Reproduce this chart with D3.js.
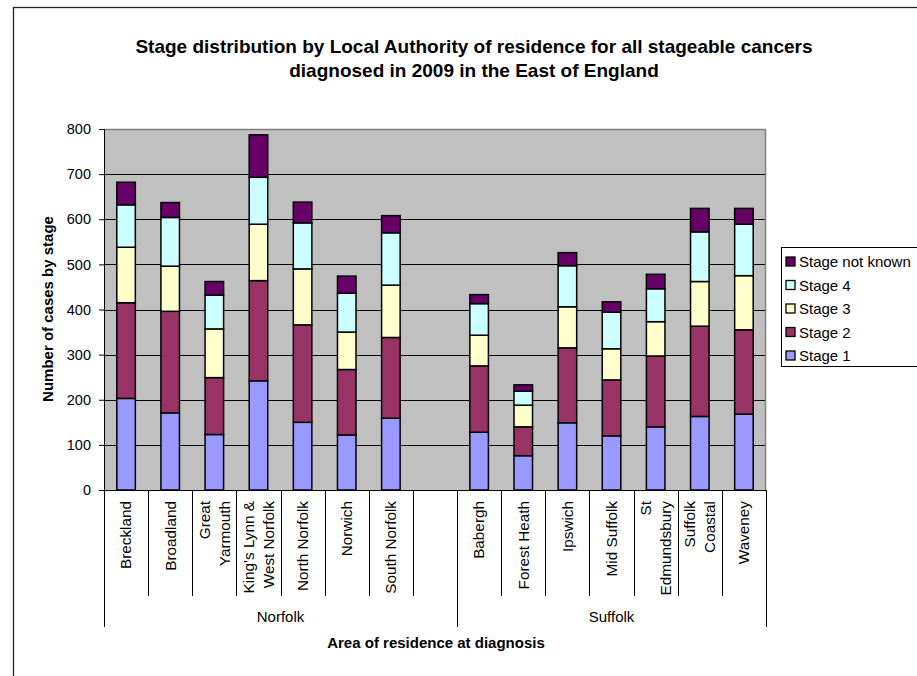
<!DOCTYPE html>
<html>
<head>
<meta charset="utf-8">
<script src="https://cdn.jsdelivr.net/npm/d3@7"></script>
<style>
  body { margin: 0; background: #fff; }
  svg { font-family: "Liberation Sans", Arial, sans-serif; }
</style>
</head>
<body>
<div id="chart-area"></div>
<script>
// areas, grouped by county ("|" splits a label over two lines)
var norfolk = ["Breckland", "Broadland", "Great|Yarmouth", "King's Lynn &|West Norfolk", "North Norfolk", "Norwich", "South Norfolk"]
var suffolk = ["Babergh", "Forest Heath", "Ipswich", "Mid Suffolk", "St|Edmundsbury", "Suffolk|Coastal", "Waveney"]
var counties = ["Norfolk", "Suffolk"]

var stageKeys = ["Stage 1", "Stage 2", "Stage 3", "Stage 4", "Stage not known"]
var stageColors = ["#9999ff", "#993366", "#ffffcc", "#ccffff", "#660066"]

// cases by stage, same order as norfolk then suffolk
var stage1  = [203, 171, 123, 242, 150, 122, 159,   128, 76, 149, 120, 140, 163, 168]
var stage2  = [212, 225, 126, 222, 216, 145, 179,   147, 64, 166, 124, 157, 200, 187]
var stage3  = [123, 100, 108, 125, 124,  83, 116,    68, 48,  91,  69,  76,  99, 120]
var stage4  = [ 94, 108,  75, 104, 102,  86, 116,    70, 31,  91,  81,  73, 110, 114]
var stageNK = [ 50,  33,  30,  94,  46,  38,  38,    20, 14,  29,  23,  32,  52,  35]

var yTicks = [0, 100, 200, 300, 400, 500, 600, 700, 800]

var width = 917, height = 676
var m = {left: 104, top: 129, right: 766, bottom: 490}

var svg = d3.select("#chart-area").append("svg")
    .attr("width", width)
    .attr("height", height)

// outer chart border (right and bottom run off the page)
svg.append("rect")
    .attr("x", 13.5).attr("y", 7.5)
    .attr("width", 1000).attr("height", 1000)
    .attr("fill", "none").attr("stroke", "#222").attr("stroke-width", 1.3)

// one slot per area plus an empty slot between the two counties
var areas = norfolk.concat(suffolk)
var slots = norfolk.concat(["__gap"]).concat(suffolk)

var x = d3.scaleBand().domain(slots).range([m.left, m.right]).padding(0)
var y = d3.scaleLinear().domain([0, 800]).range([m.bottom, m.top])

var rows = areas.map(function(a, i) {
    return {area: a, "Stage 1": stage1[i], "Stage 2": stage2[i], "Stage 3": stage3[i],
            "Stage 4": stage4[i], "Stage not known": stageNK[i]}
})
var series = d3.stack().keys(stageKeys)(rows)

// plot background
svg.append("rect")
    .attr("x", m.left).attr("y", m.top)
    .attr("width", m.right - m.left).attr("height", m.bottom - m.top)
    .attr("fill", "#c0c0c0")

// gridlines
svg.append("g").selectAll("line")
    .data(yTicks.filter(function(t) { return t > 0 && t < 800 }))
    .enter().append("line")
    .attr("x1", m.left).attr("x2", m.right)
    .attr("y1", function(d) { return Math.round(y(d)) + 0.5 })
    .attr("y2", function(d) { return Math.round(y(d)) + 0.5 })
    .attr("stroke", "#000").attr("stroke-width", 1)

// plot border top/right in grey
svg.append("path")
    .attr("d", "M" + m.left + "," + (m.top + 0.5) + "H" + (m.right - 0.5) + "V" + m.bottom)
    .attr("fill", "none").attr("stroke", "#808080").attr("stroke-width", 1.5)

// bars
var barW = x.bandwidth() * 0.42
svg.append("g").selectAll("g")
    .data(series)
    .enter().append("g")
    .attr("fill", function(d, i) { return stageColors[i] })
    .selectAll("rect")
    .data(function(d) { return d })
    .enter().append("rect")
    .attr("x", function(d) { return x(d.data.area) + (x.bandwidth() - barW) / 2 })
    .attr("y", function(d) { return y(d[1]) })
    .attr("width", barW)
    .attr("height", function(d) { return y(d[0]) - y(d[1]) })
    .attr("stroke", "#000").attr("stroke-width", 1.5)

// y axis
var yAxis = svg.append("g")
    .attr("transform", "translate(" + m.left + ",0)")
    .call(d3.axisLeft(y).tickValues(yTicks).tickSize(5).tickPadding(8))
yAxis.select(".domain").attr("stroke", "#000")
yAxis.selectAll("line").attr("stroke", "#000")
yAxis.selectAll("text").attr("font-size", 14.5).attr("fill", "#000")
    .attr("font-family", "Liberation Sans, Arial, sans-serif")

// category separators under the axis
var bounds = slots.map(function(s) { return x(s) }).concat([m.right])
var groupEdges = [m.left, x(suffolk[0]), m.right]
svg.append("line")
    .attr("x1", m.left).attr("x2", m.right)
    .attr("y1", m.bottom + 0.5).attr("y2", m.bottom + 0.5)
    .attr("stroke", "#000")
svg.append("g").selectAll("line")
    .data(bounds)
    .enter().append("line")
    .attr("x1", function(d) { return Math.round(d) + 0.5 })
    .attr("x2", function(d) { return Math.round(d) + 0.5 })
    .attr("y1", m.bottom)
    .attr("y2", function(d) { return groupEdges.indexOf(d) >= 0 ? 627 : 596 })
    .attr("stroke", "#000")

// rotated area labels
var labels = svg.append("g").selectAll("text")
    .data(areas)
    .enter().append("text")
    .attr("transform", function(d) {
        return "translate(" + (x(d) + x.bandwidth() / 2) + ",501) rotate(-90)"
    })
    .attr("text-anchor", "end")
    .attr("font-size", 15.3)
labels.each(function(d) {
    var parts = d.split("|")
    var t = d3.select(this)
    parts.forEach(function(p, i) {
        var off = parts.length == 1 ? 0 : (i == 0 ? -10 : 10)
        t.append("tspan").attr("x", 0).attr("y", off).attr("dy", "0.35em").text(p)
    })
})

// county labels
svg.append("g").selectAll("text")
    .data(counties)
    .enter().append("text")
    .attr("x", function(d, i) { return (groupEdges[i] + groupEdges[i + 1]) / 2 })
    .attr("y", 622)
    .attr("text-anchor", "middle")
    .attr("font-size", 15)
    .text(function(d) { return d })

// chart title, centred on the whole chart box
var title = svg.append("text")
    .attr("text-anchor", "middle")
    .attr("font-size", 19).attr("font-weight", "bold")
title.append("tspan").attr("x", 474).attr("y", 53)
    .text("Stage distribution by Local Authority of residence for all stageable cancers")
title.append("tspan").attr("x", 474).attr("y", 77)
    .text("diagnosed in 2009 in the East of England")

svg.append("text")
    .attr("x", 436).attr("y", 648)
    .attr("text-anchor", "middle")
    .attr("font-size", 15).attr("font-weight", "bold")
    .text("Area of residence at diagnosis")

svg.append("text")
    .attr("transform", "translate(53,309) rotate(-90)")
    .attr("text-anchor", "middle")
    .attr("font-size", 15).attr("font-weight", "bold")
    .text("Number of cases by stage")

// legend (top entry is the last stage)
var legend = svg.append("g")
legend.append("rect")
    .attr("x", 781.5).attr("y", 247.5)
    .attr("width", 200).attr("height", 119)
    .attr("fill", "#fff").attr("stroke", "#000")
var items = legend.selectAll("g")
    .data(stageKeys.slice().reverse())
    .enter().append("g")
    .attr("transform", function(d, i) { return "translate(786," + (262 + i * 23.5) + ")" })
items.append("rect")
    .attr("x", 0).attr("y", -5)
    .attr("width", 9).attr("height", 9)
    .attr("fill", function(d) { return stageColors[stageKeys.indexOf(d)] })
    .attr("stroke", "#000").attr("stroke-width", 1.3)
items.append("text")
    .attr("x", 13).attr("y", 0).attr("dy", "0.35em")
    .attr("font-size", 15)
    .text(function(d) { return d })
</script>
</body>
</html>
